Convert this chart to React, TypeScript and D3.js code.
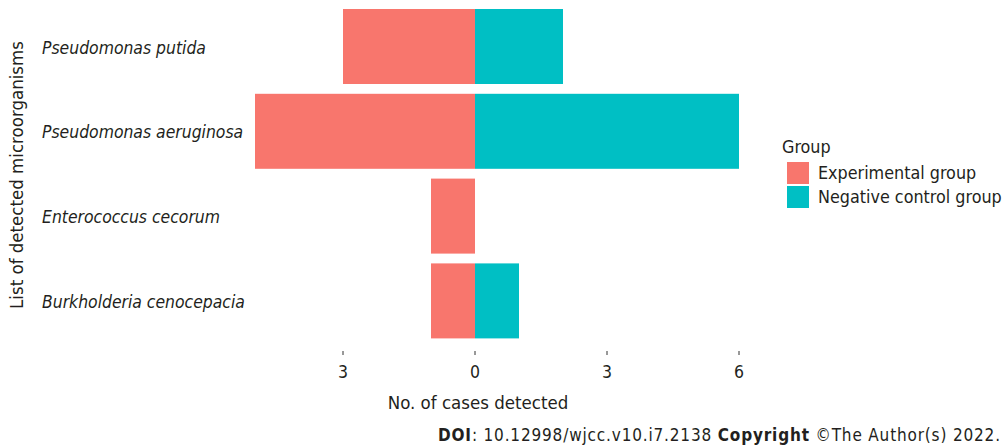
import React from "react";
import * as d3 from "d3";

const categories = [
  "Pseudomonas putida",
  "Pseudomonas aeruginosa",
  "Enterococcus cecorum",
  "Burkholderia cenocepacia",
];
const experimental = [3, 5, 1, 1];
const negativeControl = [2, 6, 0, 1];
const xTicks = [-3, 0, 3, 6];
const groups = ["Experimental group", "Negative control group"];
const colors = ["#F8766D", "#00BFC4"];

const FONT = "'DejaVu Sans Condensed', 'DejaVu Sans', sans-serif";

export default function App() {
  const W = 1004;
  const H = 448;
  const x = d3.scaleLinear().domain([-3, 6]).range([343, 739]);
  const y = d3
    .scaleBand<string>()
    .domain(categories)
    .range([4.1, 343.3])
    .paddingInner(0.1156)
    .paddingOuter(0.0578);
  const bw = y.bandwidth();
  const textColor = "#231f20";

  return (
    <svg
      width={W}
      height={H}
      style={{ position: "absolute", left: 0, top: 0, background: "#fff" }}
      fontFamily={FONT}
    >
      {categories.map((c, i) => (
        <g key={c}>
          <rect
            x={x(-experimental[i])}
            y={y(c)!}
            width={x(0) - x(-experimental[i])}
            height={bw}
            fill={colors[0]}
          />
          {negativeControl[i] > 0 && (
            <rect
              x={x(0)}
              y={y(c)!}
              width={x(negativeControl[i]) - x(0)}
              height={bw}
              fill={colors[1]}
            />
          )}
          <text
            x={42}
            y={y(c)! + bw / 2 + 1}
            dy="0.35em"
            fontSize={17.4}
            fontStyle="italic"
            fill={textColor}
          >
            {c}
          </text>
        </g>
      ))}

      {xTicks.map((t) => (
        <g key={t} transform={`translate(${x(t)},0)`}>
          <line y1={351} y2={355} stroke="#333" strokeWidth={1} />
          <text
            y={378}
            textAnchor="middle"
            fontSize={17.5}
            fill={textColor}
          >
            {Math.abs(t)}
          </text>
        </g>
      ))}

      <text
        x={478}
        y={409}
        textAnchor="middle"
        fontSize={18.5}
        fill={textColor}
      >
        No. of cases detected
      </text>

      <text
        transform="translate(23,175) rotate(-90)"
        textAnchor="middle"
        fontSize={18.5}
        fill={textColor}
      >
        List of detected microorganisms
      </text>

      <text x={782} y={153} fontSize={17.8} fill={textColor}>
        Group
      </text>
      {groups.map((g, i) => (
        <g key={g} transform={`translate(787,${162 + i * 24})`}>
          <rect width={22} height={22} fill={colors[i]} />
          <text x={31} y={11} dy="0.35em" fontSize={17.8} fill={textColor}>
            {g}
          </text>
        </g>
      ))}

      <text
        x={438}
        y={441}
        fontSize={17}
        fill={textColor}
        textLength={562}
        lengthAdjust="spacing"
      >
        <tspan fontWeight="bold">DOI</tspan>
        <tspan>: 10.12998/wjcc.v10.i7.2138  </tspan>
        <tspan fontWeight="bold">Copyright</tspan>
        <tspan> ©The Author(s) 2022.</tspan>
      </text>
    </svg>
  );
}
